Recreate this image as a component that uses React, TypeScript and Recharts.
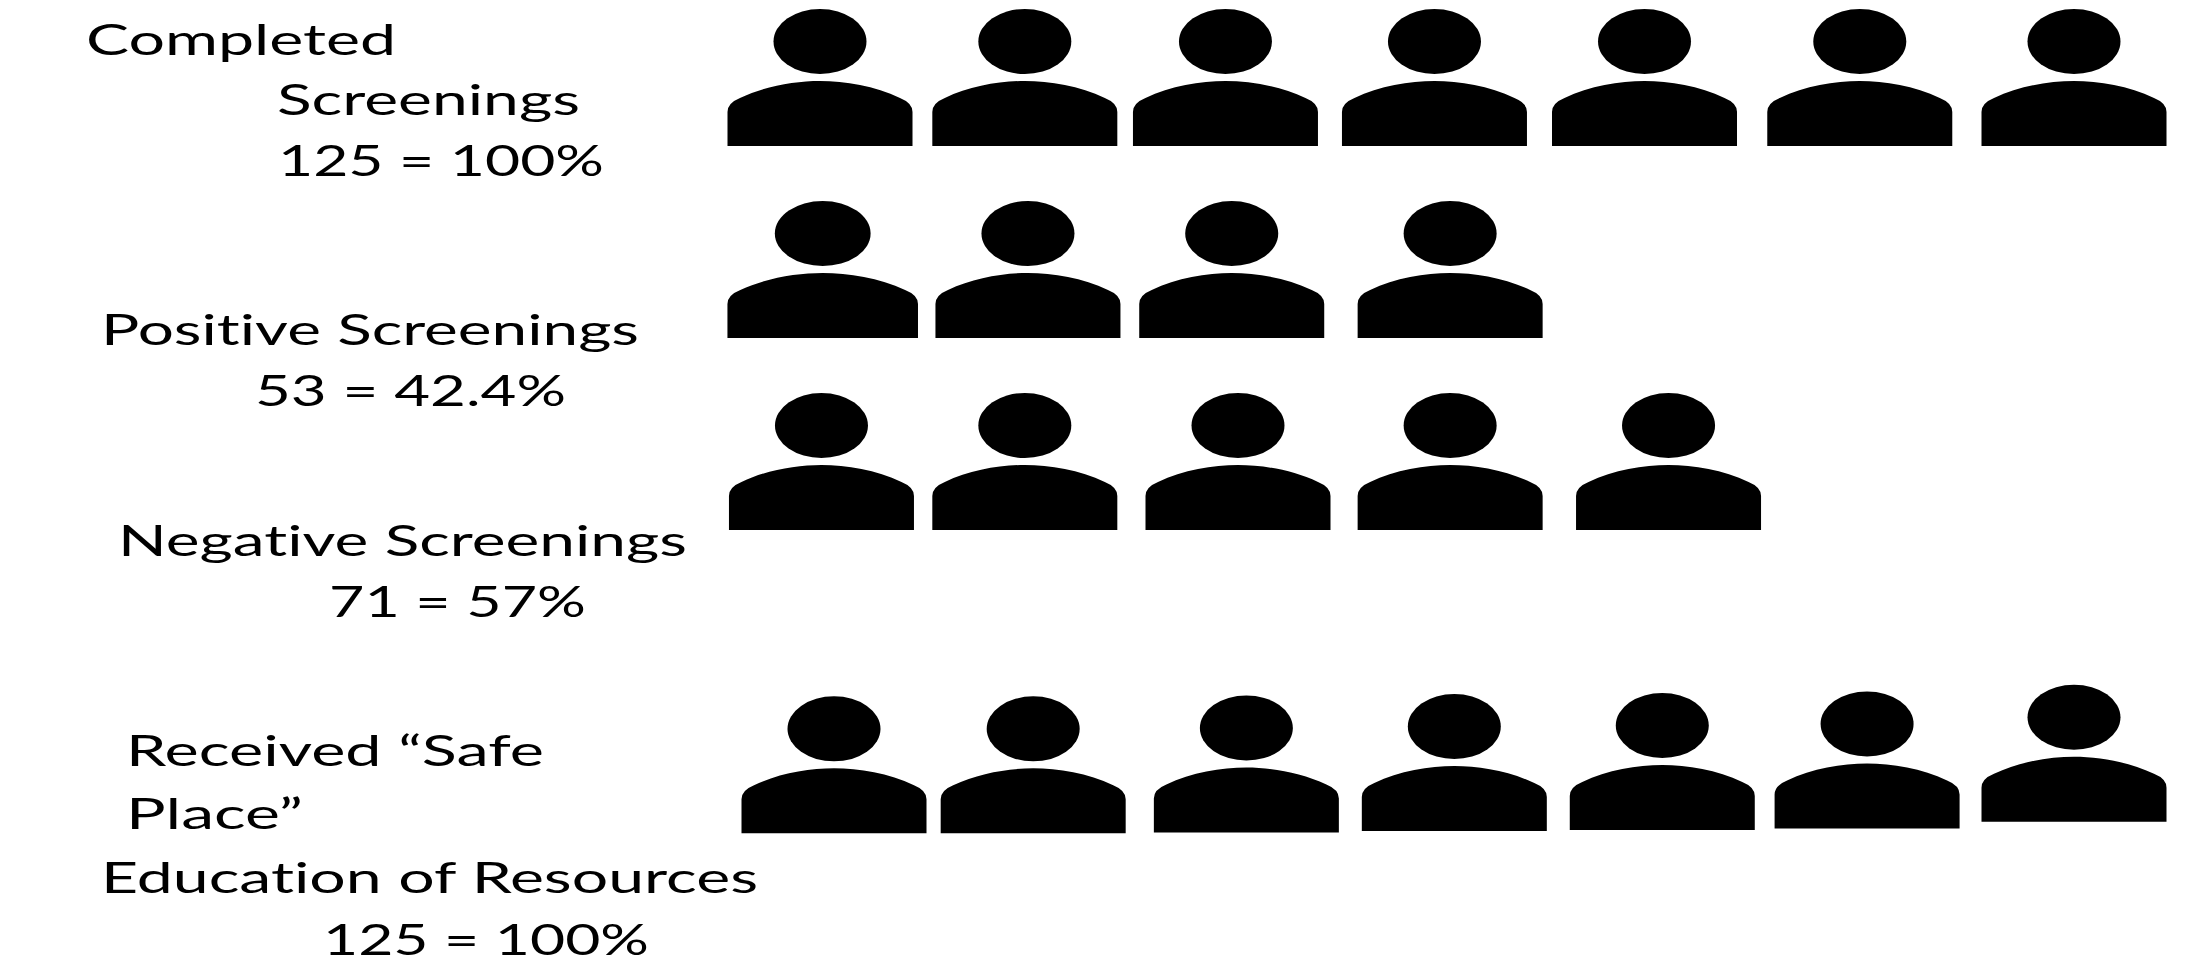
import React from 'react';
import { ScatterChart, Scatter, XAxis, YAxis, Customized } from 'recharts';

// Icon columns, in slots along the row (one slot is one person's place).
const completedSlots = [0, 0.98, 1.94, 2.94, 3.945, 4.975, 6.0];
const positiveSlots = [0.013, 0.995, 1.97, 3.015];
const negativeSlots = [0.007, 0.98, 2.0, 3.015, 4.06];
const educationSlots = [0.067, 1.02, 2.04, 3.035, 4.03, 5.01, 6.0];

// Row level for each icon.
const completedLevels = [0, 0, 0, 0, 0, 0, 0];
const positiveLevels = [1.0, 1.0, 1.0, 1.0];
const negativeLevels = [2.0, 2.0, 2.0, 2.0, 2.0];
const educationLevels = [3.58, 3.58, 3.576, 3.568, 3.562, 3.555, 3.52];

const labelLines = [
  'Completed',
  'Screenings',
  '125 = 100%',
  'Positive Screenings',
  '53 = 42.4%',
  'Negative Screenings',
  '71 = 57%',
  'Received “Safe',
  'Place”',
  'Education of Resources',
  '125 = 100%',
];

// Left edge, rendered width and baseline of each text line.
const labelBoxes = [
  [86, 310, 55],
  [277, 303, 115],
  [278, 326, 176],
  [101, 538, 345],
  [255, 311, 406],
  [118, 569, 556],
  [329, 257, 617],
  [126, 418, 766],
  [126, 177, 829],
  [101, 657, 893],
  [323, 326, 955],
];

const toPoints = (slots: number[], levels: number[]) =>
  slots.map((slot, i) => ({ slot, level: levels[i] }));

const rows = [
  toPoints(completedSlots, completedLevels),
  toPoints(positiveSlots, positiveLevels),
  toPoints(negativeSlots, negativeLevels),
  toPoints(educationSlots, educationLevels),
];

const WIDTH = 2203;
const HEIGHT = 974;
const SLOT_PX = 209;
const LEVEL_PX = 192;
const ORIGIN_X = 820;
const ORIGIN_Y = 146;

// A person glyph: (cx, cy) sits at the middle of the body's base line.
function Person({ cx, cy, stretch = 1 }: { cx?: number; cy?: number; stretch?: number }) {
  const x = cx ?? 0;
  const y = cy ?? 0;
  const s = stretch;
  const d =
    `M${x - 92.5 * s} ${y} L${x - 92.5 * s} ${y - 34} ` +
    `Q${x - 92.5 * s} ${y - 43} ${x - 80 * s} ${y - 48} ` +
    `C${x - 55 * s} ${y - 60} ${x - 25 * s} ${y - 65} ${x} ${y - 65} ` +
    `C${x + 25 * s} ${y - 65} ${x + 55 * s} ${y - 60} ${x + 80 * s} ${y - 48} ` +
    `Q${x + 92.5 * s} ${y - 43} ${x + 92.5 * s} ${y - 34} ` +
    `L${x + 92.5 * s} ${y} Z`;
  return (
    <g>
      <ellipse cx={x} cy={y - 104.5} rx={46.5 * s} ry={32.5} fill="#000" />
      <path d={d} fill="#000" />
    </g>
  );
}

// The first icon of the positive row is drawn a touch wider than the others.
const renderPerson = (props: any) => (
  <Person cx={props.cx} cy={props.cy} stretch={props.payload?.slot === positiveSlots[0] ? 1.03 : 1} />
);

function Labels() {
  return (
    <g>
      {labelLines.map((line, i) => {
        const [x, w, y] = labelBoxes[i];
        return (
          <text
            key={i}
            x={x}
            y={y}
            textLength={w}
            lengthAdjust="spacingAndGlyphs"
            fontFamily="Lato"
            fontSize={42}
            fill="#000"
            style={{ fontVariantLigatures: 'none' }}
          >
            {line}
          </text>
        );
      })}
    </g>
  );
}

export default function App() {
  return (
    <div style={{ position: 'absolute', left: 0, top: 0, width: WIDTH, height: HEIGHT, background: '#fff' }}>
      <ScatterChart width={WIDTH} height={HEIGHT} margin={{ top: 0, right: 0, bottom: 0, left: 0 }}>
        <XAxis
          type="number"
          dataKey="slot"
          hide
          domain={[-ORIGIN_X / SLOT_PX, (WIDTH - ORIGIN_X) / SLOT_PX]}
        />
        <YAxis
          type="number"
          dataKey="level"
          hide
          reversed
          domain={[-ORIGIN_Y / LEVEL_PX, (HEIGHT - ORIGIN_Y) / LEVEL_PX]}
        />
        {rows.map((row, i) => (
          <Scatter key={i} data={row} shape={renderPerson} isAnimationActive={false} />
        ))}
        <Customized component={Labels} />
      </ScatterChart>
    </div>
  );
}
